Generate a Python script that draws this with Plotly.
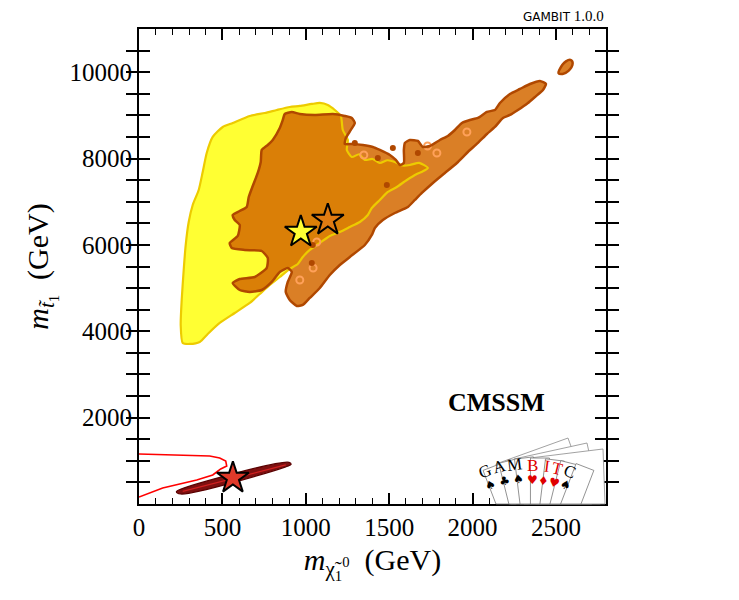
import math
import plotly.graph_objects as go

# ---------------- data (GeV) ----------------
# outer (yellow) region boundary
yellow_x = [262, 250, 256, 268, 280, 298, 322, 358, 382, 406, 442, 502, 562, 664, 754, 826, 904, 964,
            1036, 1084, 1132, 1174, 1210, 1222, 1252, 1246, 1276, 1320, 1354, 1400, 1444, 1490, 1534, 1580,
            1624, 1680, 1732, 1700, 1666, 1606, 1546, 1492, 1444, 1396, 1372, 1324, 1264, 1204, 1144, 1084,
            1024, 982, 952, 904, 844, 784, 724, 664, 574, 484, 412, 364, 304]
yellow_y = [3729, 4146, 4725, 5419, 5998, 6531, 6925, 7272, 7689, 8129, 8500, 8731, 8824, 8986, 9056,
            9125, 9194, 9218, 9264, 9287, 9241, 9125, 8986, 8662, 8430, 8199, 8036, 8100, 7967, 7990, 7897,
            7960, 7921, 7840, 7851, 7900, 7782, 7700, 7643, 7504, 7342, 7226, 7041, 6855, 6693, 6531, 6415,
            6300, 6207, 6045, 5883, 5720, 5558, 5443, 5257, 5072, 4864, 4655, 4424, 4192, 3937, 3752, 3706]

# inner (orange) region boundary
orange_x = [874, 916, 964, 1054, 1162, 1234, 1276, 1294, 1270, 1240, 1234, 1282, 1342, 1402, 1444, 1504,
            1540, 1564, 1588, 1588, 1594, 1624, 1672, 1702, 1744, 1804, 1852, 1894, 1936, 1984, 2032, 2086,
            2134, 2164, 2224, 2284, 2344, 2404, 2440, 2422, 2374, 2332, 2272, 2224, 2182, 2134, 2086, 2032,
            1972, 1906, 1834, 1762, 1696, 1654, 1612, 1534, 1462, 1414, 1396, 1354, 1264, 1204, 1144, 1084,
            1024, 982, 946, 904, 880, 892, 916, 892, 844, 796, 736, 664, 604, 562, 604, 694, 766, 772, 736,
            634, 556, 544, 592, 604, 574, 562, 604, 646, 658, 682, 712, 730, 736, 772, 802, 844, 862]
orange_y = [9032, 9079, 9032, 9009, 9032, 8986, 8940, 8824, 8662, 8477, 8338, 8338, 8314, 8268, 8199, 8083,
            7967, 7851, 7897, 8199, 8361, 8430, 8407, 8268, 8291, 8430, 8523, 8662, 8824, 8893, 8940, 9079,
            9125, 9287, 9496, 9611, 9727, 9797, 9727, 9588, 9426, 9287, 9125, 9009, 8940, 8731, 8569, 8361,
            8152, 7897, 7666, 7434, 7203, 7041, 6879, 6739, 6577, 6392, 6230, 5998, 5720, 5535, 5304, 5003,
            4771, 4609, 4586, 4725, 4910, 5142, 5373, 5466, 5373, 5142, 4956, 4910, 4956, 5118, 5211, 5257,
            5466, 5697, 5859, 5883, 5929, 6045, 6207, 6462, 6577, 6693, 6786, 6879, 7110, 7365, 7666, 7921,
            8199, 8314, 8430, 8708, 8893]

# isolated inner-region island (top right)
island_x = [2520, 2560, 2590, 2600, 2575, 2540, 2515]
island_y = [10050, 10250, 10280, 10200, 10030, 9960, 9980]

# small closed contours
dark_dots_x = [1294, 1522, 1432, 1486, 1042, 1036, 1672]
dark_dots_y = [8361, 8245, 8013, 7388, 5998, 5581, 8129]
yellow_loops_x = [1348, 1966, 1786, 1066, 964, 1044, 1730]
yellow_loops_y = [8083, 8615, 8129, 6068, 5188, 5466, 8290]

# second scan: line contour and thin band at low masses
red_line_x = [0, 304, 424, 484, 520, 526, 490, 466, 442, 346, 142, 0]
red_line_y = [1158, 1135, 1112, 1065, 996, 880, 811, 741, 672, 556, 371, 162]
band_x = [224, 250, 880, 912, 900, 248, 224]
band_y = [285, 232, 860, 915, 965, 340, 285]
band_core_x = [262, 880]
band_core_y = [292, 905]

# best-fit points
best_x = [970, 1132, 563]
best_y = [6300, 6577, 602]
best_colors = ["#FFFF33", "#E07B12", "#E03A2A"]

x_ticks = [0, 500, 1000, 1500, 2000, 2500]
y_ticks = [2000, 4000, 6000, 8000, 10000]

# ---------------- figure ----------------
YFILL = "#FFFF33"
YLINE = "#EDCB00"
OFILL = "rgba(212,105,0,0.85)"
OLINE = "#B04800"

fig = go.Figure()
fig.add_trace(go.Scatter(x=yellow_x, y=yellow_y, fill="toself", fillcolor=YFILL, mode="lines",
                         line=dict(width=0), hoverinfo="skip"))
fig.add_trace(go.Scatter(x=orange_x, y=orange_y, fill="toself", fillcolor=OFILL, mode="lines",
                         line=dict(width=0), hoverinfo="skip"))
fig.add_trace(go.Scatter(x=island_x, y=island_y, fill="toself", fillcolor=OFILL, mode="lines",
                         line=dict(width=0), hoverinfo="skip"))
fig.add_trace(go.Scatter(x=yellow_x + yellow_x[:1], y=yellow_y + yellow_y[:1], mode="lines",
                         line=dict(color=YLINE, width=2.2, shape="spline", smoothing=0.6), hoverinfo="skip"))
fig.add_trace(go.Scatter(x=yellow_loops_x, y=yellow_loops_y, mode="markers",
                         marker=dict(symbol="circle-open", size=7, line=dict(color="#F5D200", width=2)),
                         hoverinfo="skip"))
fig.add_trace(go.Scatter(x=orange_x + orange_x[:1], y=orange_y + orange_y[:1], mode="lines",
                         line=dict(color=OLINE, width=2.5, shape="spline", smoothing=0.5), hoverinfo="skip"))
fig.add_trace(go.Scatter(x=island_x + island_x[:1], y=island_y + island_y[:1], mode="lines",
                         line=dict(color=OLINE, width=2.5, shape="spline"), hoverinfo="skip"))
fig.add_trace(go.Scatter(x=dark_dots_x, y=dark_dots_y, mode="markers",
                         marker=dict(symbol="circle", size=6, color=OLINE), hoverinfo="skip"))
fig.add_trace(go.Scatter(x=red_line_x, y=red_line_y, mode="lines",
                         line=dict(color="#FF0000", width=1.6), hoverinfo="skip"))
fig.add_trace(go.Scatter(x=band_x, y=band_y, fill="toself", fillcolor="#7E1010", mode="lines",
                         line=dict(color="#5A0000", width=1.2, shape="spline"), hoverinfo="skip"))
fig.add_trace(go.Scatter(x=band_core_x, y=band_core_y, mode="lines",
                         line=dict(color="#D02020", width=1.2), hoverinfo="skip"))
fig.add_trace(go.Scatter(x=best_x, y=best_y, mode="markers",
                         marker=dict(symbol="star", size=24, color=best_colors,
                                     line=dict(color="black", width=2)), hoverinfo="skip"))
# dummy trace on the top axis so its minor ticks get drawn
fig.add_trace(go.Scatter(x=[None], y=[None], xaxis="x2", mode="lines", hoverinfo="skip"))

SERIF = "Liberation Serif"
axis_common = dict(showgrid=False, zeroline=False, showline=True, linecolor="black", linewidth=2,
                   mirror="allticks", ticks="inside", tickcolor="black", tickwidth=1.5,
                   tickfont=dict(family=SERIF, size=25, color="black"))
fig.update_xaxes(range=[0, 2800], tickvals=x_ticks, ticklen=11,
                 minor=dict(dtick=100, ticks="inside", ticklen=6, tickcolor="black", tickwidth=1.2),
                 title=dict(text="<i>m</i><sub>χ̃<sub>1</sub><sup>0</sup></sub>  (GeV)",
                            font=dict(family=SERIF, size=30, color="black"), standoff=9),
                 **axis_common)
fig.update_layout(xaxis2=dict(overlaying="x", side="top", range=[0, 2800], tickvals=x_ticks,
                              showticklabels=False, ticks="inside", ticklen=11, tickcolor="black",
                              tickwidth=1.5, showgrid=False, zeroline=False, showline=False,
                              minor=dict(dtick=100, ticks="inside", ticklen=6, tickcolor="black",
                                         tickwidth=1.2, showgrid=False)))
yv = list(range(500, 11000, 500))
yt = [str(v) if v in y_ticks else "" for v in yv]
fig.update_yaxes(range=[0, 11000], tickvals=yv, ticktext=yt, ticklen=11,
                 title=dict(text="<i>m</i><sub><i>t̃</i><sub>1</sub></sub>  (GeV)",
                            font=dict(family=SERIF, size=30, color="black"), standoff=12),
                 **axis_common)

# annotations
fig.add_annotation(x=2146, y=2362, xref="x", yref="y", text="<b>CMSSM</b>", showarrow=False,
                   font=dict(family=SERIF, size=26, color="black"))
fig.add_annotation(x=1.0, y=1.0, xref="paper", yref="paper", xanchor="right", yanchor="bottom",
                   yshift=3, text="GAMBIT <span style='font-family:Liberation Serif;font-size:15px'>1.0.0</span>",
                   showarrow=False, font=dict(family="DejaVu Sans", size=12, color="black"))

# ----- GAMBIT playing-card logo (decoration, pixel layout) -----
X0, Y0, W, H = 139.3, 504.0, 466.7, 475.0
def px(xp, yp):
    return (xp - X0) / W, (Y0 - yp) / H

def quad_path(tl, tr):
    vx, vy = tr[0] - tl[0], tr[1] - tl[1]
    n = math.hypot(vx, vy)
    dx, dy = -vy / n, vx / n          # down the card (screen coords)
    def to_bottom(p):
        t = (Y0 - p[1]) / dy
        return (min(p[0] + dx * t, 605.0), Y0)
    pts = [tl, tr, to_bottom(tr), to_bottom(tl)]
    pp = [px(*p) for p in pts]
    return "M {:.4f} {:.4f} L {:.4f} {:.4f} L {:.4f} {:.4f} L {:.4f} {:.4f} Z".format(
        *[v for p in pp for v in p])

back_cards = [((496, 464), (568, 438)), ((514, 459), (587, 443)), ((530, 458), (603, 449))]
for tl, tr in back_cards:
    fig.add_shape(type="path", path=quad_path(tl, tr), xref="paper", yref="paper",
                  fillcolor="white", line=dict(color="#8a8a8a", width=0.8), layer="above")

cards = [(492, 467, -21, "G", "♠", "black"), (508, 461, -14, "A", "♣", "black"),
         (524, 458, -7, "M", "♠", "black"), (540, 458, 0, "B", "♥", "#E00000"),
         (555, 460, 7, "I", "♦", "#E00000"), (570, 463, 14, "T", "♥", "#E00000"),
         (585, 467, 21, "C", "♠", "black")]
CW = 19
for cx, ty, ang, letter, suit, col in cards:
    a = math.radians(ang)
    tl = (cx - math.cos(a) * CW / 2, ty - math.sin(a) * CW / 2)
    tr = (cx + math.cos(a) * CW / 2, ty + math.sin(a) * CW / 2)
    fig.add_shape(type="path", path=quad_path(tl, tr), xref="paper", yref="paper",
                  fillcolor="white", line=dict(color="#777777", width=0.8), layer="above")
for cx, ty, ang, letter, suit, col in cards:
    a = math.radians(ang)
    lx, ly = px(cx - math.sin(a) * 12, ty + math.cos(a) * 12)
    sx, sy = px(cx - math.sin(a) * 25, ty + math.cos(a) * 25)
    fig.add_annotation(x=lx, y=ly, xref="paper", yref="paper", text=letter, showarrow=False,
                       yshift=-7, textangle=ang, font=dict(family=SERIF, size=17, color=col))
    fig.add_annotation(x=sx, y=sy, xref="paper", yref="paper", text=suit, showarrow=False,
                       yshift=-6, textangle=ang, font=dict(family="DejaVu Sans", size=12, color=col))

fig.update_layout(width=739, height=600, margin=dict(l=139, r=133, t=29, b=96),
                  plot_bgcolor="white", paper_bgcolor="white", showlegend=False)
fig.write_html("out.html")
